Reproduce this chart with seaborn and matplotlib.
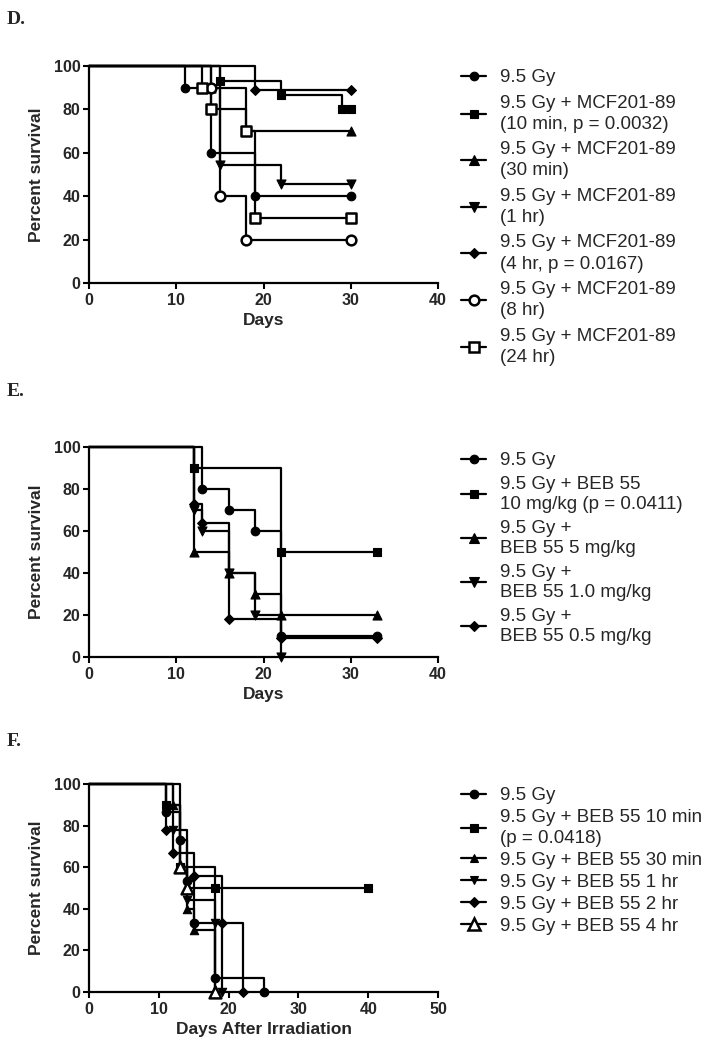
import numpy as np
import pandas as pd
import matplotlib
matplotlib.use("Agg")
import matplotlib.pyplot as plt
import seaborn as sns
from matplotlib.lines import Line2D

sns.set_theme(style="ticks")
plt.rcParams['font.family'] = ['Liberation Sans', 'DejaVu Sans']

# ---------------- Panel D data ----------------
D_labels = ["9.5 Gy",
            "9.5 Gy + MCF201-89\n(10 min, p = 0.0032)",
            "9.5 Gy + MCF201-89\n(30 min)",
            "9.5 Gy + MCF201-89\n(1 hr)",
            "9.5 Gy + MCF201-89\n(4 hr, p = 0.0167)",
            "9.5 Gy + MCF201-89\n(8 hr)",
            "9.5 Gy + MCF201-89\n(24 hr)"]
d_ctrl_t = [11, 14, 19];          d_ctrl_s = [90, 60, 40]
d_10m_t = [15, 22, 29];           d_10m_s = [93.3, 86.7, 80]
d_30m_t = [14, 18];               d_30m_s = [90, 70]
d_1h_t = [15, 22];                d_1h_s = [54.5, 45.5]
d_4h_t = [19];                    d_4h_s = [88.9]
d_8h_t = [14, 15, 18];            d_8h_s = [90, 40, 20]
d_24h_t = [13, 14, 18, 19];       d_24h_s = [90, 80, 70, 30]
d_end = [30, 30, 30, 30, 30, 30, 30]
D_xticks = [0, 10, 20, 30, 40]

# ---------------- Panel E data ----------------
E_labels = ["9.5 Gy",
            "9.5 Gy + BEB 55\n10 mg/kg (p = 0.0411)",
            "9.5 Gy +\nBEB 55 5 mg/kg",
            "9.5 Gy +\nBEB 55 1.0 mg/kg",
            "9.5 Gy +\nBEB 55 0.5 mg/kg"]
e_ctrl_t = [13, 16, 19, 22];      e_ctrl_s = [80, 70, 60, 10]
e_10_t = [12, 22];                e_10_s = [90, 50]
e_5_t = [12, 16, 19, 22];         e_5_s = [50, 40, 30, 20]
e_1_t = [12, 13, 16, 19, 22];     e_1_s = [70, 60, 40, 20, 0]
e_05_t = [12, 13, 16, 22];        e_05_s = [72.7, 63.6, 18.2, 9.1]
e_end = [33, 33, 33, None, 33]
E_xticks = [0, 10, 20, 30, 40]

# ---------------- Panel F data ----------------
F_labels = ["9.5 Gy",
            "9.5 Gy + BEB 55 10 min\n(p = 0.0418)",
            "9.5 Gy + BEB 55 30 min",
            "9.5 Gy + BEB 55 1 hr",
            "9.5 Gy + BEB 55 2 hr",
            "9.5 Gy + BEB 55 4 hr"]
f_ctrl_t = [11, 13, 14, 15, 18, 25];  f_ctrl_s = [86.7, 73.3, 53.3, 33.3, 6.7, 0]
f_10m_t = [11, 13, 18];               f_10m_s = [90, 60, 50]
f_30m_t = [12, 13, 14, 15, 18];       f_30m_s = [90, 60, 40, 30, 0]
f_1h_t = [12, 14, 18, 19];            f_1h_s = [77.8, 44.4, 33.3, 0]
f_2h_t = [11, 12, 15, 19, 22];        f_2h_s = [77.8, 66.7, 55.6, 33.3, 0]
f_4h_t = [13, 14, 18];                f_4h_s = [60, 50, 0]
f_end = [None, 40, None, None, None, None]
F_xticks = [0, 10, 20, 30, 40, 50]

yticks = [0, 20, 40, 60, 80, 100]

# marker styles: (marker, facecolor, size in pt, edge width)
D_style = [('o', 'black', 6.2, 0.8), ('s', 'black', 6.0, 0.8), ('^', 'black', 6.5, 0.8),
           ('v', 'black', 6.5, 0.8), ('D', 'black', 5.0, 0.8), ('o', 'white', 7.0, 1.8),
           ('s', 'white', 6.6, 1.8)]
E_style = [('o', 'black', 6.2, 0.8), ('s', 'black', 6.0, 0.8), ('^', 'black', 6.5, 0.8),
           ('v', 'black', 6.5, 0.8), ('D', 'black', 5.0, 0.8)]
F_style = [('o', 'black', 6.2, 0.8), ('s', 'black', 6.0, 0.8), ('^', 'black', 6.0, 0.8),
           ('v', 'black', 6.0, 0.8), ('D', 'black', 5.0, 0.8), ('^', 'white', 8.5, 1.8)]


def km_table(times, surv, end):
    x = [0.0] + list(times)
    y = [100.0] + list(surv)
    if end is not None:
        x.append(end)
        y.append(surv[-1])
    return pd.DataFrame({"t": x, "s": y})


W, H = 716, 1050
fig = plt.figure(figsize=(W / 100, H / 100), dpi=100)


def px_axes(left, top, right, bottom):
    return fig.add_axes([left / W, 1 - bottom / H, (right - left) / W, (bottom - top) / H])


def draw_panel(ax, series, ends, styles, xmax, xticks, xlabel):
    for (t, s), end, (m, fc, ms, mew) in zip(series, ends, styles):
        df = km_table(t, s, end)
        sns.lineplot(data=df, x="t", y="s", drawstyle='steps-post', estimator=None,
                     sort=False, color='black', linewidth=1.6, ax=ax, legend=False,
                     zorder=2, clip_on=False)
        pts = df.iloc[1:]
        sns.scatterplot(data=pts, x="t", y="s", marker=m, color=fc, edgecolor='black',
                        linewidth=mew, s=ms ** 2, ax=ax, legend=False, zorder=3,
                        clip_on=False)
    ax.set_xlim(0, xmax)
    ax.set_ylim(0, 100)
    ax.set_xticks(xticks)
    ax.set_yticks(yticks)
    sns.despine(ax=ax)
    for sp in ['left', 'bottom']:
        ax.spines[sp].set_linewidth(1.6)
        ax.spines[sp].set_color('black')
    ax.tick_params(axis='both', length=4.5, width=1.5, color='black', labelsize=11.5)
    ax.tick_params(axis='y', pad=1.5)
    ax.tick_params(axis='x', pad=3)
    for lab in ax.get_xticklabels() + ax.get_yticklabels():
        lab.set_fontweight('bold')
    ax.set_ylabel("Percent survival", fontsize=12.5, fontweight='bold', labelpad=7)
    ax.set_xlabel(xlabel, fontsize=12.5, fontweight='bold', labelpad=3)
    ax.set_facecolor('white')


def add_legend(ax, labels, styles, top_px, spacing, linesp):
    handles = [Line2D([], [], color='black', lw=1.6, marker=m, markerfacecolor=fc,
                      markeredgecolor='black', markersize=ms, markeredgewidth=mew)
               for (m, fc, ms, mew) in styles]
    leg = ax.legend(handles, labels, loc='upper left',
                    bbox_to_anchor=(461 / W, 1 - top_px / H),
                    bbox_transform=fig.transFigure, frameon=False, fontsize=13.5,
                    handlelength=1.35, handletextpad=0.72, labelspacing=spacing,
                    borderpad=0, borderaxespad=0, numpoints=1)
    for t in leg.get_texts():
        t.set_linespacing(linesp)
    return leg


# Panel D
axD = px_axes(89, 66, 438, 283)
draw_panel(axD,
           [(d_ctrl_t, d_ctrl_s), (d_10m_t, d_10m_s), (d_30m_t, d_30m_s), (d_1h_t, d_1h_s),
            (d_4h_t, d_4h_s), (d_8h_t, d_8h_s), (d_24h_t, d_24h_s)],
           d_end, D_style, 40, D_xticks, "Days")
add_legend(axD, D_labels, D_style, 69, 0.45, 1.32)

# Panel E
axE = px_axes(89, 447, 438, 657)
draw_panel(axE,
           [(e_ctrl_t, e_ctrl_s), (e_10_t, e_10_s), (e_5_t, e_5_s), (e_1_t, e_1_s),
            (e_05_t, e_05_s)],
           e_end, E_style, 40, E_xticks, "Days")
add_legend(axE, E_labels, E_style, 452, 0.36, 1.25)

# Panel F
axF = px_axes(89, 784, 438, 992)
draw_panel(axF,
           [(f_ctrl_t, f_ctrl_s), (f_10m_t, f_10m_s), (f_30m_t, f_30m_s), (f_1h_t, f_1h_s),
            (f_2h_t, f_2h_s), (f_4h_t, f_4h_s)],
           f_end, F_style, 50, F_xticks, "Days After Irradiation")
add_legend(axF, F_labels, F_style, 787, 0.26, 1.28)

# Panel letters
for letter, ypx in [("D.", 19), ("E.", 391), ("F.", 741)]:
    fig.text(7 / W, 1 - ypx / H, letter, fontsize=14, fontweight='bold',
             family=['Liberation Serif', 'DejaVu Serif'], va='center', ha='left')

fig.savefig("out.png", dpi=100, facecolor='white')
